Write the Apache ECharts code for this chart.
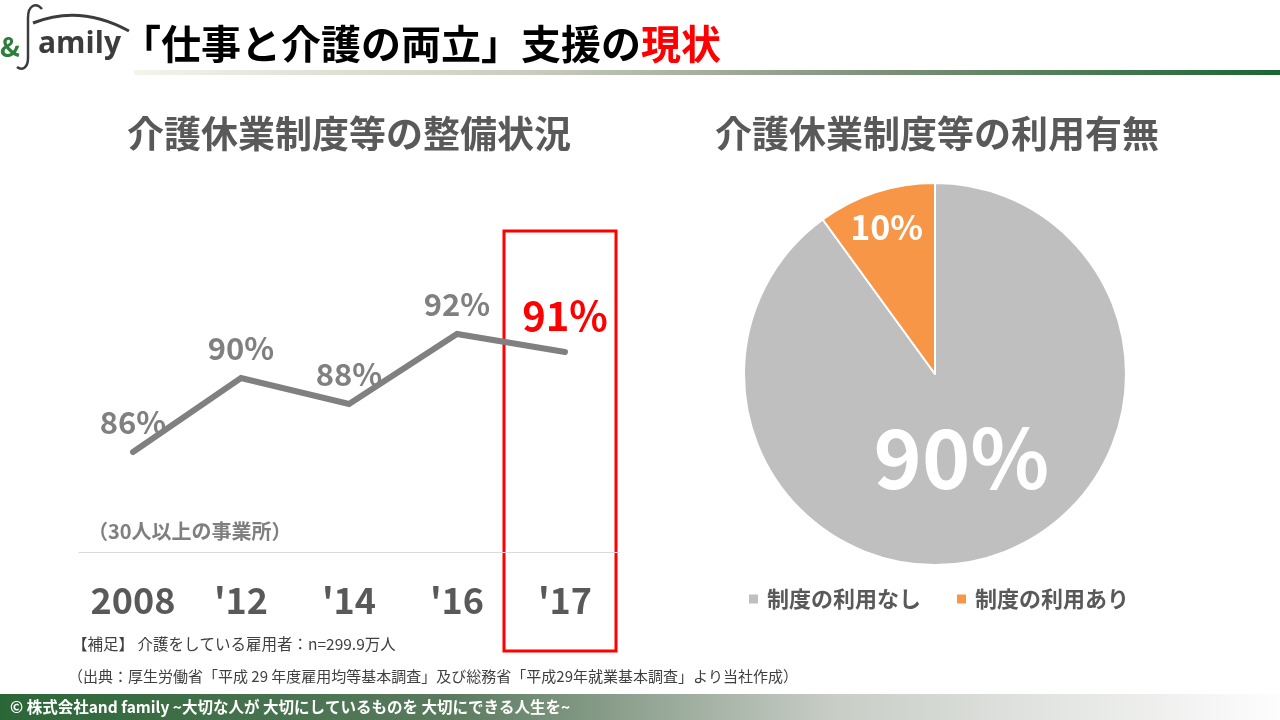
<!DOCTYPE html>
<html>
<head>
<meta charset="utf-8">
<script src="https://cdn.jsdelivr.net/npm/echarts@6/dist/echarts.min.js"></script>
<style>
  html, body { margin: 0; padding: 0; background: #fff; }
  #main { width: 1280px; height: 720px; }
</style>
</head>
<body>
<div id="main"></div>
<script>
// 整備状況（30人以上の事業所）
var years = ['2008', "'12", "'14", "'16", "'17"];
var rates = [86.0, 89.7, 88.4, 91.9, 91.0];

// 利用有無
var useNames = ['制度の利用なし', '制度の利用あり'];
var useValues = [90, 10];
var useColors = ['#bfbfbf', '#f79646'];

var font = '"Noto Sans CJK JP", "Noto Sans", sans-serif';
var chart = echarts.init(document.getElementById('main'));

var option = {
    backgroundColor: '#fff',
    textStyle: { fontFamily: font },
    animation: false,
    title: [{
            text: '介護休業制度等の整備状況',
            left: 122,
            top: 110,
            textStyle: { fontSize: 37, fontWeight: 'bold', color: '#595959', fontFamily: font }
        },
        {
            text: '介護休業制度等の利用有無',
            left: 710,
            top: 110,
            textStyle: { fontSize: 37, fontWeight: 'bold', color: '#595959', fontFamily: font }
        }
    ],
    grid: { left: 79, top: 272, width: 540, height: 280 },
    xAxis: {
        type: 'category',
        data: years,
        boundaryGap: true,
        axisLine: { lineStyle: { color: '#d9d9d9', width: 1 } },
        axisTick: { show: false },
        axisLabel: {
            interval: 0,
            margin: 30,
            fontSize: 36,
            fontWeight: 'bold',
            color: '#595959',
            fontFamily: font
        }
    },
    yAxis: { type: 'value', min: 81, max: 95, show: false },
    legend: {
        data: useNames,
        left: 742,
        top: 583,
        itemWidth: 11,
        itemHeight: 11,
        itemGap: 34,
        icon: 'rect',
        selectedMode: false,
        textStyle: { fontSize: 22, fontWeight: 'bold', color: '#595959', fontFamily: font, padding: [0, 0, 0, 3] }
    },
    series: [{
            type: 'line',
            data: rates.map(function(v, i) {
                if (i == rates.length - 1) {
                    return { value: v, label: { color: '#ff0000', fontSize: 40, distance: 16 } };
                }
                return v;
            }),
            showSymbol: true,
            symbol: 'circle',
            symbolSize: 0,
            itemStyle: { color: '#808080' },
            lineStyle: { color: '#808080', width: 6, cap: 'round', join: 'miter' },
            label: {
                show: true,
                position: 'top',
                distance: 14,
                fontSize: 31,
                fontWeight: 'bold',
                color: '#808080',
                fontFamily: font,
                formatter: function(p) { return Math.round(p.value) + '%'; }
            }
        },
        {
            type: 'pie',
            center: [935, 374],
            radius: [0, 191],
            startAngle: 90,
            clockwise: true,
            data: useNames.map(function(n, i) {
                return { name: n, value: useValues[i], itemStyle: { color: useColors[i] } };
            }),
            itemStyle: { borderColor: '#fff', borderWidth: 2 },
            label: {
                show: true,
                position: 'inside',
                formatter: '{c}%',
                color: '#fff',
                fontWeight: 'bold',
                fontFamily: font,
                fontSize: 82
            },
            labelLine: { show: false },
            labelLayout: function(p) {
                if (p.dataIndex == 1) return { dx: -18, dy: -53, fontSize: 34 };
                return { dx: -4, dy: -10 };
            },
            emphasis: { disabled: true }
        }
    ],
    graphic: [
        // header bar
        {
            type: 'rect',
            shape: { x: 134, y: 70, width: 1146, height: 5 },
            style: {
                fill: new echarts.graphic.LinearGradient(0, 0, 1, 0, [
                    { offset: 0, color: '#f4f4ea' },
                    { offset: 0.35, color: '#c8ccbe' },
                    { offset: 0.65, color: '#7e9079' },
                    { offset: 1, color: '#1b6632' }
                ])
            }
        },
        // logo
        {
            type: 'bezierCurve',
            shape: { x1: 33, y1: 23, cpx1: 80, cpy1: 4, x2: 129, y2: 31 },
            style: { stroke: '#3c3c3c', lineWidth: 3, fill: null }
        },
        {
            type: 'bezierCurve',
            shape: { x1: 42, y1: 9, cpx1: 36, cpy1: 2, cpx2: 28, cpy2: 5, x2: 28, y2: 18 },
            style: { stroke: '#3c3c3c', lineWidth: 2.5, fill: null }
        },
        {
            type: 'line',
            shape: { x1: 28, y1: 18, x2: 28, y2: 58 },
            style: { stroke: '#3c3c3c', lineWidth: 2.5 }
        },
        {
            type: 'bezierCurve',
            shape: { x1: 28, y1: 58, cpx1: 28, cpy1: 68, cpx2: 22, cpy2: 71, x2: 17, y2: 67 },
            style: { stroke: '#3c3c3c', lineWidth: 2.5, fill: null }
        },
        {
            type: 'text',
            x: 0, y: 47,
            style: { text: '&', fill: '#2e7d3c', font: 'bold 27px ' + font, textVerticalAlign: 'middle' }
        },
        {
            type: 'text',
            x: 38, y: 44,
            style: { text: 'amily', fill: '#3c3c3c', font: 'bold 30px "Open Sans", sans-serif', textVerticalAlign: 'middle' }
        },
        // page title
        {
            type: 'text',
            x: 121, y: 44,
            style: {
                text: '{k|「仕事と介護の両立」支援の}{r|現状}',
                textVerticalAlign: 'middle',
                rich: {
                    k: { fontSize: 40, fontWeight: 'bold', fill: '#000', fontFamily: font },
                    r: { fontSize: 40, fontWeight: 'bold', fill: '#ff0000', fontFamily: font }
                }
            }
        },
        // note under line chart
        {
            type: 'text',
            x: 88, y: 531,
            style: { text: '（30人以上の事業所）', fill: '#7f7f7f', font: 'bold 20px ' + font, textVerticalAlign: 'middle' }
        },
        // highlight box
        {
            type: 'rect',
            shape: { x: 504, y: 231, width: 112, height: 420 },
            style: { fill: null, stroke: '#ff0000', lineWidth: 3 }
        },
        // notes
        {
            type: 'text',
            x: 72, y: 644,
            style: { text: '【補足】 介護をしている雇用者：n=299.9万人', fill: '#404040', font: '15.5px ' + font, textVerticalAlign: 'middle' }
        },
        {
            type: 'text',
            x: 68, y: 676,
            style: { text: '（出典：厚生労働省「平成 29 年度雇用均等基本調査」及び総務省「平成29年就業基本調査」より当社作成）', fill: '#404040', font: '15px ' + font, textVerticalAlign: 'middle' }
        },
        // footer
        {
            type: 'rect',
            shape: { x: 0, y: 694, width: 1280, height: 26 },
            style: {
                fill: new echarts.graphic.LinearGradient(0, 0, 1, 0, [
                    { offset: 0, color: '#2b6637' },
                    { offset: 0.35, color: '#5a7a5e' },
                    { offset: 0.65, color: '#c8cdc6' },
                    { offset: 1, color: '#fdfdfd' }
                ])
            }
        },
        {
            type: 'text',
            x: 10, y: 707,
            style: { text: '© 株式会社and family ~大切な人が 大切にしているものを 大切にできる人生を~', fill: '#fff', font: 'bold 15.5px ' + font, textVerticalAlign: 'middle' }
        }
    ]
};

chart.setOption(option);
</script>
</body>
</html>
